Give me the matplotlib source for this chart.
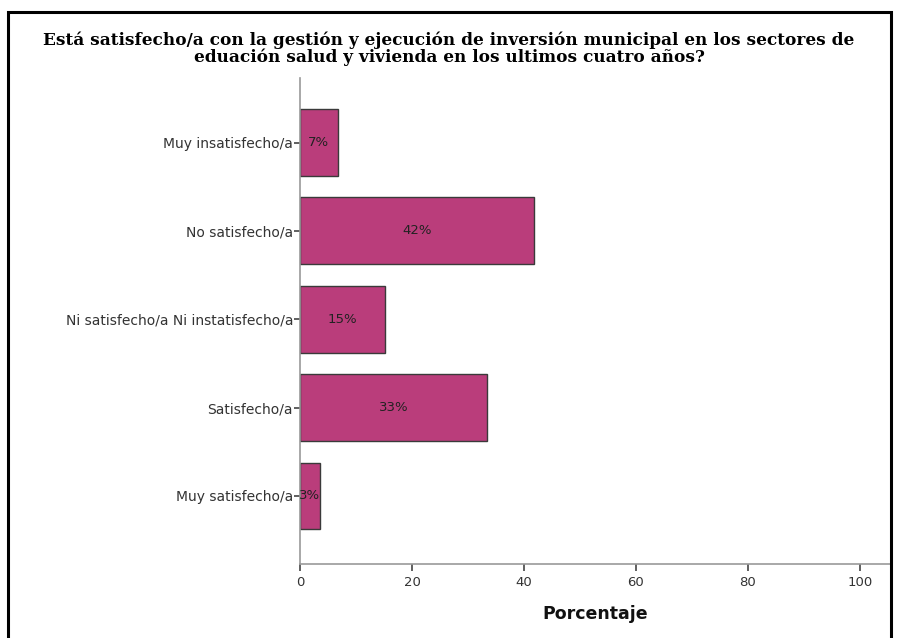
import numpy as np
import matplotlib.pyplot as plt
from matplotlib.patches import Rectangle

# Survey answers (top to bottom) and their percentages
categories = ['Muy insatisfecho/a', 'No satisfecho/a',
              'Ni satisfecho/a Ni instatisfecho/a', 'Satisfecho/a',
              'Muy satisfecho/a']
percent = [6.7, 41.8, 15.1, 33.4, 3.5]
bar_labels = ['7%', '42%', '15%', '33%', '3%']
xticks = [0, 20, 40, 60, 80, 100]

title = ('Está satisfecho/a con la gestión y ejecución de inversión municipal en los sectores de\n'
         'eduación salud y vivienda en los ultimos cuatro años?')

fig = plt.figure(figsize=(8.99, 6.38), dpi=100)
ax = fig.add_axes([300/899, 74/638, 590/899, 486/638])

pos = np.arange(len(categories))[::-1]
ax.barh(pos, percent, height=0.757, color='#BA3D7B', edgecolor='#3a3a3a', linewidth=1)
for p, v, lab in zip(pos, percent, bar_labels):
    ax.text(v / 2, p, lab, ha='center', va='center', fontsize=9.5,
            family='DejaVu Sans', color='#222222')

ax.set_xlim(0, 105.4)
ax.set_ylim(-0.77, 4.73)
ax.set_yticks(pos)
ax.set_yticklabels(categories, family='DejaVu Sans', fontsize=10, color='#333333')
ax.set_xticks(xticks)
ax.set_xticklabels([str(t) for t in xticks], family='DejaVu Sans', fontsize=9.5, color='#333333')
ax.tick_params(axis='y', length=4, width=1.2, color='#444444', pad=1)
ax.tick_params(axis='x', length=5, width=1.2, color='#444444', pad=4)

for s in ['top', 'right']:
    ax.spines[s].set_visible(False)
for s in ['left', 'bottom']:
    ax.spines[s].set_color('#999999')
    ax.spines[s].set_linewidth(1.2)

ax.set_xlabel('Porcentaje', family='DejaVu Sans', fontsize=12.5, fontweight='bold',
              labelpad=11, color='#111111')

fig.text(449 / 899, 1 - 49 / 638, title, ha='center', va='center', fontsize=12.2,
         family='DejaVu Serif', fontweight='bold', linespacing=0.95)

# frame around the whole chart
fig.patches.append(Rectangle((8 / 899, -0.1), 883 / 899, 1.1 - 12 / 638,
                             transform=fig.transFigure, fill=False,
                             edgecolor='black', linewidth=2.2))

fig.savefig('out.png', dpi=100)
